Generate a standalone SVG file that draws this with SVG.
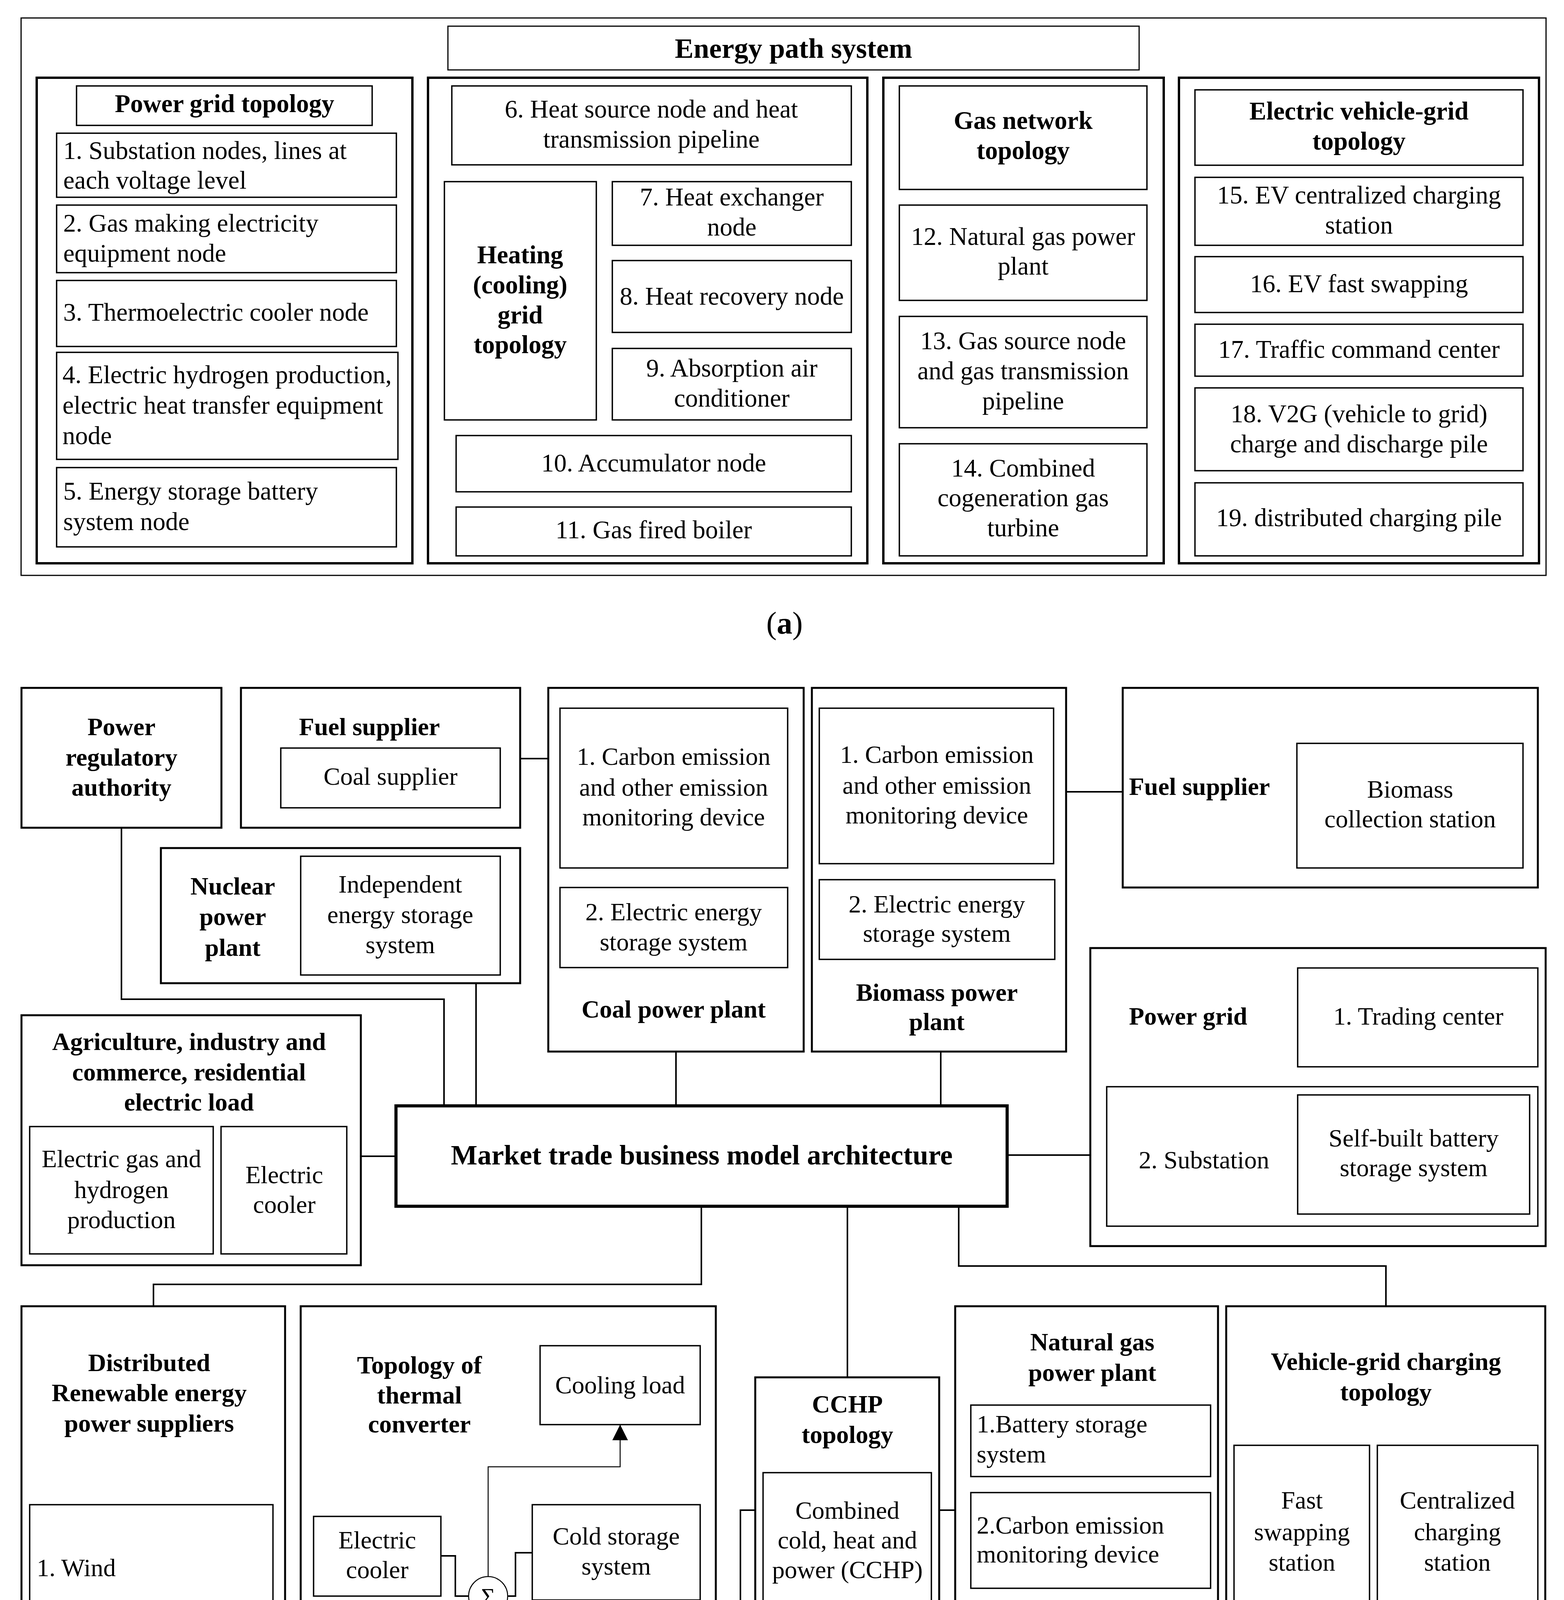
<svg xmlns="http://www.w3.org/2000/svg" width="4005" height="5342" viewBox="0 0 4005 5342">
<style>
rect{fill:none;stroke:#000}
.o{stroke-width:3}
.col{stroke-width:6}
.bx{stroke-width:3.5}
.tk{stroke-width:5}
.mk{stroke-width:8}
.c{fill:none;stroke:#000;stroke-width:4}
.cn{fill:none;stroke:#000;stroke-width:2.5}
text{font-family:"Liberation Serif","Times New Roman",serif;fill:#000}
.a{font-size:65px}
.p{font-size:64px}
.b{font-weight:bold}
.m{text-anchor:middle}
</style>
<defs>
<marker id="ah" viewBox="0 0 40 40" refX="40" refY="20" markerWidth="40" markerHeight="40" markerUnits="userSpaceOnUse" orient="auto"><path d="M0,0 L40,20 L0,40 z" fill="#000"/></marker>
</defs>
<rect width="4005" height="5342" style="fill:#fff;stroke:none"/>

<!-- ================= (a) ================= -->
<g id="energy-path-system">
<rect class="o" x="54" y="46" width="3905" height="1427"/>
<rect class="o" x="1147" y="67" width="1770" height="112"/>
<text class="b m" style="font-size:72px" x="2032" y="148">Energy path system</text>
</g>

<g id="power-grid-topology">
<rect class="col" x="94" y="199" width="962" height="1243"/>
<rect class="bx" x="196" y="220" width="757" height="101"/>
<text class="a b m" x="575" y="287">Power grid topology</text>
<rect class="bx" x="145" y="341" width="870" height="164"/>
<text class="a" x="162" y="407">1. Substation nodes, lines at</text>
<text class="a" x="162" y="483">each voltage level</text>
<rect class="bx" x="145" y="525" width="870" height="173"/>
<text class="a" x="162" y="593">2. Gas making electricity</text>
<text class="a" x="162" y="670">equipment node</text>
<rect class="bx" x="145" y="718" width="870" height="169"/>
<text class="a" x="162" y="821">3. Thermoelectric cooler node</text>
<rect class="bx" x="145" y="902" width="874" height="274"/>
<text class="a" x="160" y="981">4. Electric hydrogen production,</text>
<text class="a" x="160" y="1059">electric heat transfer equipment</text>
<text class="a" x="160" y="1137">node</text>
<rect class="bx" x="145" y="1197" width="870" height="203"/>
<text class="a" x="162" y="1279">5. Energy storage battery</text>
<text class="a" x="162" y="1357">system node</text>
</g>

<g id="heating-grid-topology">
<rect class="col" x="1096" y="199" width="1125" height="1243"/>
<rect class="bx" x="1157" y="220" width="1023" height="202"/>
<text class="a m" x="1668" y="301">6. Heat source node and heat</text>
<text class="a m" x="1668" y="378">transmission pipeline</text>
<rect class="bx" x="1138" y="465" width="389" height="610"/>
<text class="a b m" x="1332" y="674">Heating</text>
<text class="a b m" x="1332" y="751">(cooling)</text>
<text class="a b m" x="1332" y="828">grid</text>
<text class="a b m" x="1332" y="904">topology</text>
<rect class="bx" x="1568" y="465" width="612" height="163"/>
<text class="a m" x="1874" y="526">7. Heat exchanger</text>
<text class="a m" x="1874" y="603">node</text>
<rect class="bx" x="1568" y="667" width="612" height="184"/>
<text class="a m" x="1874" y="780">8. Heat recovery node</text>
<rect class="bx" x="1568" y="892" width="612" height="183"/>
<text class="a m" x="1874" y="964">9. Absorption air</text>
<text class="a m" x="1874" y="1041">conditioner</text>
<rect class="bx" x="1168" y="1115" width="1012" height="144"/>
<text class="a m" x="1674" y="1207">10. Accumulator node</text>
<rect class="bx" x="1168" y="1298" width="1012" height="125"/>
<text class="a m" x="1674" y="1378">11. Gas fired boiler</text>
</g>

<g id="gas-network-topology">
<rect class="col" x="2262" y="199" width="718" height="1243"/>
<rect class="bx" x="2303" y="220" width="634" height="265"/>
<text class="a b m" x="2620" y="330">Gas network</text>
<text class="a b m" x="2620" y="407">topology</text>
<rect class="bx" x="2303" y="525" width="634" height="244"/>
<text class="a m" x="2620" y="627">12. Natural gas power</text>
<text class="a m" x="2620" y="703">plant</text>
<rect class="bx" x="2303" y="810" width="634" height="285"/>
<text class="a m" x="2620" y="894">13. Gas source node</text>
<text class="a m" x="2620" y="971">and gas transmission</text>
<text class="a m" x="2620" y="1048">pipeline</text>
<rect class="bx" x="2303" y="1136" width="634" height="287"/>
<text class="a m" x="2620" y="1220">14. Combined</text>
<text class="a m" x="2620" y="1296">cogeneration gas</text>
<text class="a m" x="2620" y="1373">turbine</text>
</g>

<g id="ev-grid-topology">
<rect class="col" x="3019" y="199" width="922" height="1243"/>
<rect class="bx" x="3060" y="230" width="840" height="193"/>
<text class="a b m" x="3480" y="306">Electric vehicle-grid</text>
<text class="a b m" x="3480" y="383">topology</text>
<rect class="bx" x="3060" y="454" width="840" height="174"/>
<text class="a m" x="3480" y="521">15. EV centralized charging</text>
<text class="a m" x="3480" y="598">station</text>
<rect class="bx" x="3060" y="657" width="840" height="143"/>
<text class="a m" x="3480" y="748">16. EV fast swapping</text>
<rect class="bx" x="3060" y="830" width="840" height="133"/>
<text class="a m" x="3480" y="916">17. Traffic command center</text>
<rect class="bx" x="3060" y="993" width="840" height="212"/>
<text class="a m" x="3480" y="1081">18. V2G (vehicle to grid)</text>
<text class="a m" x="3480" y="1158">charge and discharge pile</text>
<rect class="bx" x="3060" y="1236" width="840" height="187"/>
<text class="a m" x="3480" y="1347">19. distributed charging pile</text>
</g>

<text class="m" style="font-size:80px" x="2009" y="1622">(<tspan class="b">a</tspan>)</text>

<!-- ================= (b) ================= -->
<g id="connectors">
<path class="c" d="M311,2119 V2558 H1137 V2831"/>
<path class="c" d="M1219,2517 V2831"/>
<path class="c" d="M1332,1942 H1404"/>
<path class="c" d="M1731,2692 V2831"/>
<path class="c" d="M2409,2692 V2831"/>
<path class="c" d="M2730,2027 H2875"/>
<path class="c" d="M924,2960 H1014"/>
<path class="c" d="M2579,2957 H2792"/>
<path class="c" d="M1796,3088 V3288 H393 V3344"/>
<path class="c" d="M2170,3088 V3526"/>
<path class="c" d="M2455,3088 V3241 H3549 V3344"/>
<path class="c" d="M1833,4209 H1896 V3866 H1934"/>
<path class="c" d="M1793,4465 H1896 V4703 H1934"/>
<path class="c" d="M2405,3866 H2446"/>
<path class="c" d="M2170,4209 V4312 H2346 V4434"/>
<path class="c" d="M2486,4244 H2379 V4618"/>
<path class="c" d="M1562,4821 V5028 H2781 V4393"/>
<path class="c" d="M3334,4147 V4207 H3734 V4147"/>
<path class="c" d="M3610,4207 V4272"/>
<path class="c" d="M3610,4473 V4526"/>
<path class="c" d="M3421,4597 V4526 H3834 V4618"/>
<path class="c" d="M1129,3983 H1166 V4086 H1200"/>
<path class="c" d="M1300,4086 H1320 V3975 H1363"/>
<path class="cn" d="M1250,4036 V3755 H1588 V3647" marker-end="url(#ah)"/>
<path class="c" d="M1250,4136 V4187 H989 V4238"/>
<path class="cn" d="M1179,4346 H1230"/>
<path class="c" d="M1288,4343 V4241 H1363"/>
<path class="c" d="M1311,4385 H1330 V4465 H1363"/>
<path class="c" d="M1211,4385 V4513 H1010 V4618"/>
<path class="c" d="M1261,4435 V4597 H1562 V4618"/>
<path class="cn" d="M1261,4597 V4873" marker-end="url(#ah)"/>
</g>

<g id="power-regulatory-authority">
<rect class="tk" x="55" y="1761" width="512" height="358"/>
<text class="p b m" x="311" y="1882">Power</text>
<text class="p b m" x="311" y="1960">regulatory</text>
<text class="p b m" x="311" y="2037">authority</text>
</g>

<g id="fuel-supplier-coal">
<rect class="tk" x="617" y="1761" width="715" height="358"/>
<text class="p b m" x="946" y="1882">Fuel supplier</text>
<rect class="bx" x="719" y="1915" width="562" height="153"/>
<text class="p m" x="1000" y="2009">Coal supplier</text>
</g>

<g id="nuclear-power-plant">
<rect class="tk" x="412" y="2171" width="920" height="346"/>
<text class="p b m" x="596" y="2290">Nuclear</text>
<text class="p b m" x="596" y="2368">power</text>
<text class="p b m" x="596" y="2447">plant</text>
<rect class="bx" x="770" y="2192" width="511" height="304"/>
<text class="p m" x="1025" y="2285">Independent</text>
<text class="p m" x="1025" y="2363">energy storage</text>
<text class="p m" x="1025" y="2440">system</text>
</g>

<g id="electric-load">
<rect class="tk" x="55" y="2599" width="869" height="640"/>
<text class="p b m" x="484" y="2688">Agriculture, industry and</text>
<text class="p b m" x="484" y="2766">commerce, residential</text>
<text class="p b m" x="484" y="2843">electric load</text>
<rect class="bx" x="76" y="2884" width="470" height="326"/>
<text class="p m" x="311" y="2988">Electric gas and</text>
<text class="p m" x="311" y="3067">hydrogen</text>
<text class="p m" x="311" y="3144">production</text>
<rect class="bx" x="566" y="2884" width="322" height="326"/>
<text class="p m" x="728" y="3029">Electric</text>
<text class="p m" x="728" y="3105">cooler</text>
</g>

<g id="market-architecture">
<rect class="mk" x="1014" y="2831" width="1565" height="257"/>
<text class="b m" style="font-size:72px" x="1797" y="2981">Market trade business model architecture</text>
</g>

<g id="coal-power-plant">
<rect class="tk" x="1404" y="1761" width="654" height="931"/>
<rect class="bx" x="1434" y="1813" width="583" height="409"/>
<text class="p m" x="1725" y="1958">1. Carbon emission</text>
<text class="p m" x="1725" y="2037">and other emission</text>
<text class="p m" x="1725" y="2113">monitoring device</text>
<rect class="bx" x="1434" y="2272" width="583" height="205"/>
<text class="p m" x="1725" y="2356">2. Electric energy</text>
<text class="p m" x="1725" y="2433">storage system</text>
<text class="p b m" x="1725" y="2605">Coal power plant</text>
</g>

<g id="biomass-power-plant">
<rect class="tk" x="2079" y="1761" width="651" height="931"/>
<rect class="bx" x="2098" y="1813" width="600" height="398"/>
<text class="p m" x="2399" y="1953">1. Carbon emission</text>
<text class="p m" x="2399" y="2032">and other emission</text>
<text class="p m" x="2399" y="2108">monitoring device</text>
<rect class="bx" x="2098" y="2252" width="603" height="204"/>
<text class="p m" x="2399" y="2336">2. Electric energy</text>
<text class="p m" x="2399" y="2411">storage system</text>
<text class="p b m" x="2399" y="2562">Biomass power</text>
<text class="p b m" x="2399" y="2637">plant</text>
</g>

<g id="fuel-supplier-biomass">
<rect class="tk" x="2875" y="1761" width="1063" height="511"/>
<text class="p b" x="2891" y="2035">Fuel supplier</text>
<rect class="bx" x="3321" y="1903" width="579" height="319"/>
<text class="p m" x="3611" y="2042">Biomass</text>
<text class="p m" x="3611" y="2118">collection station</text>
</g>

<g id="power-grid">
<rect class="tk" x="2792" y="2427" width="1166" height="763"/>
<text class="p b" x="2891" y="2623">Power grid</text>
<rect class="bx" x="3323" y="2478" width="615" height="253"/>
<text class="p m" x="3632" y="2623">1. Trading center</text>
<rect class="bx" x="2834" y="2782" width="1104" height="357"/>
<text class="p m" x="3083" y="2991">2. Substation</text>
<rect class="bx" x="3323" y="2803" width="594" height="305"/>
<text class="p m" x="3620" y="2935">Self-built battery</text>
<text class="p m" x="3620" y="3011">storage system</text>
</g>

<g id="distributed-renewable">
<rect class="tk" x="55" y="3344" width="675" height="1732"/>
<text class="p b m" x="382" y="3510">Distributed</text>
<text class="p b m" x="382" y="3587">Renewable energy</text>
<text class="p b m" x="382" y="3665">power suppliers</text>
<rect class="bx" x="76" y="3852" width="623" height="560"/>
<text class="p" x="94" y="4035">1. Wind</text>
<rect class="bx" x="107" y="4107" width="562" height="286"/>
<text class="p m" x="387" y="4232">Self-built battery</text>
<text class="p m" x="387" y="4310">storage system</text>
<rect class="bx" x="76" y="4446" width="623" height="578"/>
<text class="p" x="90" y="4597">2. PV</text>
<rect class="bx" x="107" y="4668" width="562" height="306"/>
<text class="p m" x="387" y="4802">Self-built battery</text>
<text class="p m" x="387" y="4878">storage system</text>
</g>

<g id="thermal-converter">
<rect class="tk" x="770" y="3344" width="1063" height="1732"/>
<text class="p b m" x="1074" y="3516">Topology of</text>
<text class="p b m" x="1074" y="3593">thermal</text>
<text class="p b m" x="1074" y="3667">converter</text>
<rect class="bx" x="1383" y="3445" width="410" height="202"/>
<text class="p m" x="1588" y="3567">Cooling load</text>
<rect class="bx" x="803" y="3882" width="326" height="204"/>
<text class="p m" x="966" y="3964">Electric</text>
<text class="p m" x="966" y="4040">cooler</text>
<rect class="bx" x="1363" y="3852" width="430" height="244"/>
<text class="p m" x="1578" y="3954">Cold storage</text>
<text class="p m" x="1578" y="4031">system</text>
<rect class="bx" x="801" y="4238" width="378" height="216"/>
<text class="p m" x="989" y="4327">Absorption</text>
<text class="p m" x="989" y="4402">cooler</text>
<rect class="bx" x="1363" y="4127" width="430" height="225"/>
<text class="p m" x="1578" y="4222">Heat</text>
<text class="p m" x="1578" y="4299">exchanger</text>
<rect class="bx" x="1363" y="4373" width="430" height="182"/>
<text class="p m" x="1578" y="4445">Gas fired</text>
<text class="p m" x="1578" y="4520">boiler</text>
<rect class="bx" x="801" y="4618" width="419" height="203"/>
<text class="p m" x="1010" y="4700">Heat</text>
<text class="p m" x="1010" y="4777">accumulator</text>
<rect class="bx" x="1312" y="4618" width="500" height="203"/>
<text class="p m" x="1562" y="4700">Heat recovery</text>
<text class="p m" x="1562" y="4777">device</text>
<rect class="bx" x="1036" y="4873" width="451" height="151"/>
<text class="p m" x="1261" y="4967">Heat load</text>
<g id="sum-1"><circle cx="1250" cy="4086" r="50" fill="#fff" stroke="#000" stroke-width="2.5"/><text class="m" style="font-size:62px" x="1250" y="4108">Σ</text></g>
<g id="sum-2"><circle cx="1261" cy="4385" r="50" fill="#fff" stroke="#000" stroke-width="2.5"/><text class="m" style="font-size:62px" x="1261" y="4407">Σ</text></g>
</g>

<g id="cchp-topology">
<rect class="tk" x="1934" y="3526" width="471" height="683"/>
<text class="p b m" x="2170" y="3616">CCHP</text>
<text class="p b m" x="2170" y="3694">topology</text>
<rect class="bx" x="1954" y="3770" width="431" height="347"/>
<text class="p m" x="2170" y="3888">Combined</text>
<text class="p m" x="2170" y="3964">cold, heat and</text>
<text class="p m" x="2170" y="4040">power (CCHP)</text>
</g>

<g id="fuel-supplier-gas">
<rect class="tk" x="1934" y="4434" width="822" height="540"/>
<text class="p b m" x="2165" y="4566">Fuel supplier</text>
<rect class="bx" x="2097" y="4618" width="564" height="120"/>
<text class="p m" x="2379" y="4698">Natural gas</text>
<rect class="bx" x="2097" y="4781" width="564" height="120"/>
<text class="p m" x="2379" y="4861">Other gas fuels</text>
</g>

<g id="natural-gas-power-plant">
<rect class="tk" x="2446" y="3344" width="673" height="1049"/>
<text class="p b m" x="2797" y="3457">Natural gas</text>
<text class="p b m" x="2797" y="3535">power plant</text>
<rect class="bx" x="2486" y="3597" width="614" height="183"/>
<text class="p" x="2501" y="3667">1.Battery storage</text>
<text class="p" x="2501" y="3744">system</text>
<rect class="bx" x="2486" y="3821" width="614" height="245"/>
<text class="p" x="2501" y="3926">2.Carbon emission</text>
<text class="p" x="2501" y="4000">monitoring device</text>
<rect class="bx" x="2486" y="4130" width="614" height="222"/>
<text class="p" x="2501" y="4224">3.Natural gas fueled</text>
<text class="p" x="2501" y="4301">gas turbine</text>
</g>

<g id="vehicle-grid-charging">
<rect class="tk" x="3140" y="3344" width="817" height="1630"/>
<text class="p b m" x="3549" y="3507">Vehicle-grid charging</text>
<text class="p b m" x="3549" y="3585">topology</text>
<rect class="bx" x="3160" y="3700" width="347" height="447"/>
<text class="p m" x="3334" y="3862">Fast</text>
<text class="p m" x="3334" y="3943">swapping</text>
<text class="p m" x="3334" y="4021">station</text>
<rect class="bx" x="3527" y="3700" width="411" height="447"/>
<text class="p m" x="3732" y="3862">Centralized</text>
<text class="p m" x="3732" y="3943">charging</text>
<text class="p m" x="3732" y="4021">station</text>
<rect class="bx" x="3323" y="4272" width="574" height="201"/>
<text class="p m" x="3610" y="4350">EV traffic control</text>
<text class="p m" x="3610" y="4431">platform</text>
<rect class="bx" x="3201" y="4597" width="439" height="325"/>
<text class="p m" x="3421" y="4741">Distributed</text>
<text class="p m" x="3421" y="4818">charging piles</text>
<rect class="bx" x="3743" y="4618" width="184" height="172"/>
<text class="p m" x="3835" y="4723">V2G</text>
</g>

<text class="m" style="font-size:80px" x="2002" y="5288">(<tspan class="b">b</tspan>)</text>
</svg>
